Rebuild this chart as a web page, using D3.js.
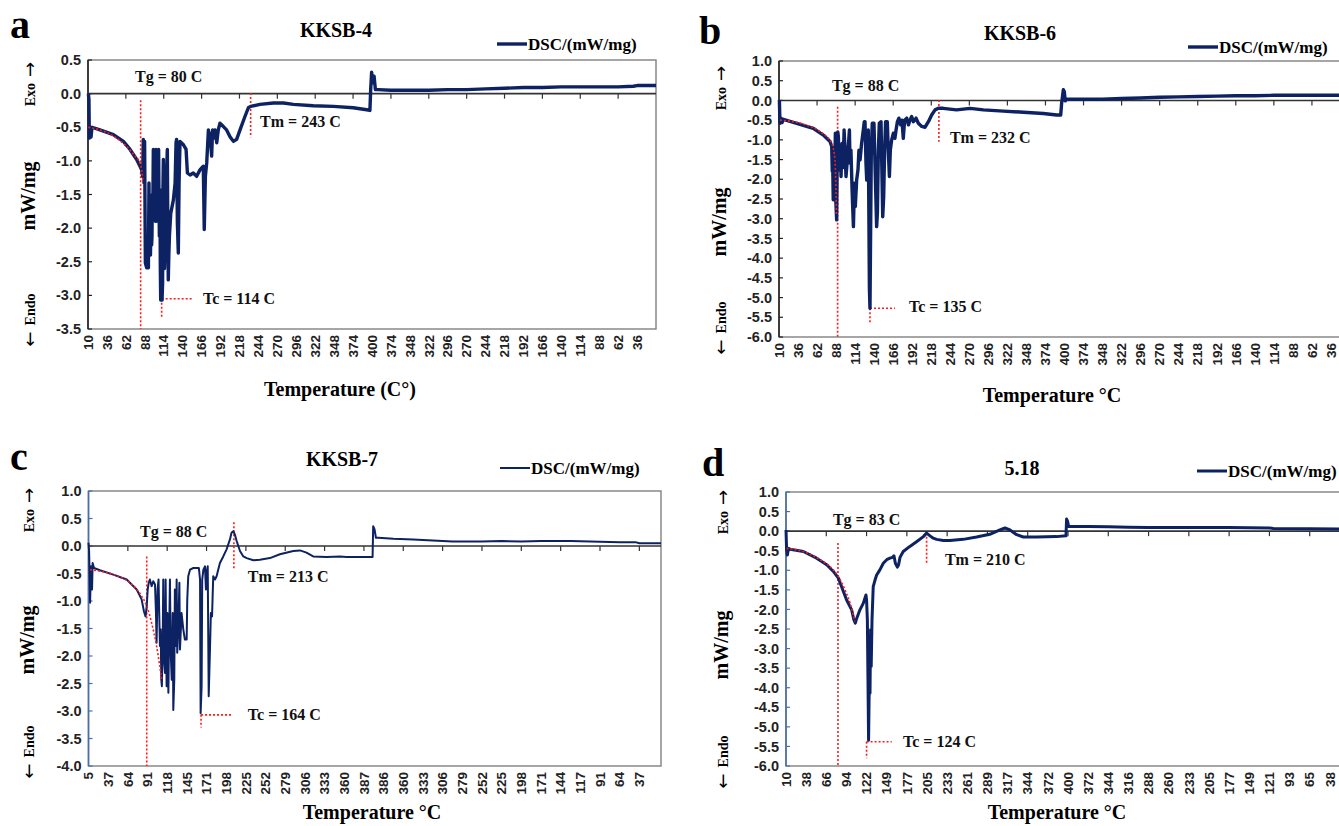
<!DOCTYPE html>
<html>
<head>
<meta charset="utf-8">
<script src="https://d3js.org/d3.v7.min.js"></script>
<style>
  body { margin: 0; background: #fff; }
  svg { display: block; }
  .serif { font-family: "Liberation Serif", "Times New Roman", serif; font-weight: bold; }
  .sans { font-family: "Liberation Sans", Arial, sans-serif; font-weight: bold; }
  .arrow { font-family: "DejaVu Sans", sans-serif; font-weight: normal; }
</style>
</head>
<body>
<div id="chart-container"></div>
<script>
// x tick labels: temperature along the heating run, then the cooling run
const ticksA = [10, 36, 62, 88, 114, 140, 166, 192, 218, 244, 270, 296, 322, 348, 374, 400, 374, 348, 322, 296, 270, 244, 218, 192, 166, 140, 114, 88, 62, 36];
const ticksB = [10, 36, 62, 88, 114, 140, 166, 192, 218, 244, 270, 296, 322, 348, 374, 400, 374, 348, 322, 296, 270, 244, 218, 192, 166, 140, 114, 88, 62, 36];
const ticksC = [5, 37, 64, 91, 118, 145, 171, 198, 225, 252, 279, 306, 333, 360, 387, 386, 360, 333, 306, 279, 252, 225, 198, 171, 144, 117, 91, 64, 37];
const ticksD = [10, 38, 66, 94, 122, 149, 177, 205, 233, 261, 289, 317, 344, 372, 400, 372, 344, 316, 288, 260, 233, 205, 177, 149, 121, 93, 65, 38];

// y tick values (mW/mg)
const yTicksA = [0.5, 0, -0.5, -1, -1.5, -2, -2.5, -3, -3.5];
const yTicksB = [1, 0.5, 0, -0.5, -1, -1.5, -2, -2.5, -3, -3.5, -4, -4.5, -5, -5.5, -6];
const yTicksC = [1, 0.5, 0, -0.5, -1, -1.5, -2, -2.5, -3, -3.5, -4];
const yTicksD = [1, 0.5, 0, -0.5, -1, -1.5, -2, -2.5, -3, -3.5, -4, -4.5, -5, -5.5, -6];

// DSC traces: [position in x-label steps, mW/mg]
const dscA = [[0.02,0],[0.05,-0.09],[0.07,-0.66],[0.11,-0.54],[0.16,-0.645],[0.21,-0.50],[0.63,-0.54],[1.34,-0.61],[1.87,-0.71],[2.22,-0.83],[2.57,-0.98],[2.83,-1.13],[2.89,-1.23],[2.92,-0.68],[2.96,-1.33],[2.99,-0.71],[3.03,-2.52],[3.10,-2.59],[3.19,-2.59],[3.22,-1.33],[3.25,-2.30],[3.27,-1.92],[3.30,-2.40],[3.33,-1.63],[3.36,-2.25],[3.38,-2.12],[3.40,-1.50],[3.42,-1.88],[3.45,-0.83],[3.47,-1.60],[3.49,-1.83],[3.52,-1.20],[3.54,-1.43],[3.57,-1.90],[3.59,-0.83],[3.61,-1.50],[3.63,-1.73],[3.66,-1.00],[3.68,-1.23],[3.71,-1.90],[3.73,-0.83],[3.75,-1.60],[3.77,-2.12],[3.80,-1.43],[3.82,-2.60],[3.84,-3.07],[3.91,-3.07],[3.94,-2.82],[3.96,-1.40],[3.98,-0.98],[4.01,-1.83],[4.04,-2.60],[4.07,-2.32],[4.10,-1.90],[4.12,-1.33],[4.16,-1.10],[4.19,-0.83],[4.22,-2.20],[4.24,-2.77],[4.27,-2.40],[4.30,-2.12],[4.37,-1.78],[4.51,-1.58],[4.60,-1.33],[4.65,-0.73],[4.68,-0.68],[4.72,-1.92],[4.77,-2.37],[4.81,-1.33],[4.86,-0.71],[5.04,-0.76],[5.18,-0.83],[5.25,-1.18],[5.39,-1.21],[5.56,-1.18],[5.74,-1.23],[5.92,-1.13],[6.09,-1.08],[6.14,-2.02],[6.20,-1.23],[6.27,-1.03],[6.36,-0.54],[6.40,-0.70],[6.44,-0.59],[6.53,-0.93],[6.58,-0.54],[6.64,-0.66],[6.71,-0.54],[6.80,-0.73],[6.88,-0.54],[6.97,-0.44],[7.15,-0.49],[7.32,-0.54],[7.50,-0.64],[7.68,-0.71],[7.85,-0.68],[8.03,-0.54],[8.29,-0.34],[8.47,-0.21],[8.59,-0.19],[9.08,-0.16],[9.79,-0.14],[10.32,-0.14],[10.85,-0.16],[11.90,-0.18],[12.96,-0.19],[14.01,-0.21],[14.72,-0.24],[14.89,-0.25],[14.93,0.06],[14.98,0.32],[15.04,0.16],[15.11,0.26],[15.18,0.06],[15.33,0.06],[16,0.05],[17,0.05],[18,0.05],[19,0.06],[20,0.06],[21,0.07],[22,0.08],[23,0.09],[24,0.09],[25,0.10],[26,0.10],[27,0.10],[28,0.10],[28.8,0.11],[29,0.12],[30,0.12]];
const dscB = [[0.02,0.01],[0.05,-0.58],[0.11,-0.45],[0.16,-0.56],[0.23,-0.48],[0.93,-0.58],[1.80,-0.71],[2.33,-0.88],[2.68,-1.04],[2.77,-1.17],[2.80,-1.80],[2.82,-1.51],[2.85,-2.52],[2.89,-1.26],[2.92,-2.36],[2.96,-0.83],[2.99,-2.61],[3.03,-3.03],[3.06,-1.26],[3.09,-0.80],[3.12,-0.92],[3.15,-1.60],[3.17,-1.76],[3.20,-1.17],[3.23,-1.50],[3.26,-1.93],[3.31,-1.09],[3.35,-1.70],[3.38,-1.51],[3.42,-0.75],[3.47,-1.26],[3.50,-1.70],[3.52,-1.93],[3.59,-1.51],[3.66,-1.04],[3.70,-0.75],[3.73,-1.59],[3.78,-1.26],[3.84,-2.27],[3.88,-2.80],[3.91,-3.20],[3.94,-2.60],[3.96,-2.10],[4.01,-2.69],[4.08,-2.02],[4.15,-1.76],[4.20,-1.26],[4.26,-1.51],[4.34,-1.09],[4.43,-0.75],[4.48,-0.54],[4.52,-0.54],[4.57,-1.60],[4.61,-2.02],[4.64,-1.26],[4.69,-0.75],[4.75,-4.77],[4.78,-5.27],[4.82,-2.95],[4.85,-1.26],[4.90,-0.58],[4.99,-0.58],[5.06,-1.93],[5.13,-3.20],[5.17,-2.86],[5.22,-1.26],[5.27,-0.58],[5.36,-0.54],[5.45,-2.95],[5.50,-2.44],[5.55,-1.26],[5.60,-0.54],[5.69,-0.54],[5.74,-1.26],[5.80,-1.93],[5.85,-1.26],[5.92,-1.00],[6.01,-0.83],[6.09,-0.96],[6.15,-0.75],[6.22,-0.54],[6.30,-0.45],[6.39,-0.62],[6.46,-0.50],[6.53,-0.96],[6.60,-0.50],[6.71,-0.45],[6.80,-0.62],[6.88,-0.50],[6.97,-0.41],[7.06,-0.54],[7.20,-0.45],[7.32,-0.58],[7.50,-0.66],[7.67,-0.68],[7.85,-0.54],[8.02,-0.37],[8.20,-0.24],[8.37,-0.20],[8.63,-0.20],[9.33,-0.24],[10.04,-0.20],[10.74,-0.24],[11.79,-0.27],[12.84,-0.30],[13.89,-0.33],[14.59,-0.37],[14.80,-0.37],[14.85,-0.07],[14.94,0.27],[14.99,0.22],[15.04,-0.01],[15.11,0.03],[16,0.03],[17,0.03],[18,0.05],[19,0.06],[20,0.08],[21,0.09],[22,0.10],[23,0.11],[24,0.12],[25,0.12],[26,0.13],[27,0.13],[28,0.13],[29,0.13],[30,0.13]];
const dscC = [[0,0.06],[0.03,-0.09],[0.06,-0.6],[0.08,-1.03],[0.13,-0.37],[0.18,-0.79],[0.21,-0.31],[0.28,-0.40],[0.58,-0.44],[1.26,-0.52],[1.94,-0.61],[2.45,-0.79],[2.70,-0.97],[2.82,-1.19],[2.90,-1.28],[2.96,-1.09],[3.01,-0.79],[3.06,-0.67],[3.12,-0.61],[3.21,-0.73],[3.29,-0.64],[3.38,-0.70],[3.43,-1.22],[3.46,-1.76],[3.51,-0.79],[3.56,-0.61],[3.63,-1.82],[3.67,-1.52],[3.70,-2.43],[3.73,-2.55],[3.77,-1.82],[3.80,-0.61],[3.84,-2.07],[3.89,-2.31],[3.92,-0.61],[3.97,-2.55],[4.01,-1.22],[4.06,-2.67],[4.09,-1.82],[4.14,-0.61],[4.18,-1.94],[4.23,-2.43],[4.28,-1.22],[4.31,-2.98],[4.36,-2.43],[4.39,-0.79],[4.45,-1.82],[4.48,-0.61],[4.51,-1.94],[4.56,-1.52],[4.62,-0.67],[4.65,-1.88],[4.73,-1.22],[4.82,-1.52],[4.90,-1.70],[4.99,-1.70],[5.02,-0.97],[5.07,-0.55],[5.16,-0.43],[5.33,-0.40],[5.50,-0.40],[5.61,-0.40],[5.67,-0.61],[5.70,-3.04],[5.75,-2.55],[5.78,-0.61],[5.84,-0.43],[5.92,-0.37],[5.97,-0.79],[6.00,-0.49],[6.06,-0.37],[6.11,-2.73],[6.17,-1.94],[6.22,-1.22],[6.28,-1.28],[6.34,-0.55],[6.43,-0.61],[6.51,-0.55],[6.68,-0.31],[6.85,-0.19],[7.02,-0.06],[7.19,0.12],[7.27,0.24],[7.36,0.27],[7.44,0.21],[7.53,0.09],[7.70,-0.09],[7.87,-0.19],[8.04,-0.22],[8.38,-0.26],[8.71,-0.25],[9.22,-0.22],[9.73,-0.15],[10.41,-0.09],[10.75,-0.08],[11.08,-0.12],[11.42,-0.19],[12.10,-0.20],[12.78,-0.19],[13.12,-0.20],[13.63,-0.20],[14.13,-0.20],[14.44,-0.20],[14.47,0.36],[14.54,0.30],[14.61,0.15],[14.73,0.15],[15.5,0.13],[16.5,0.12],[17.5,0.10],[18.5,0.08],[20,0.08],[21,0.09],[22,0.08],[23,0.09],[24.5,0.09],[25.5,0.08],[27,0.07],[27.8,0.07],[28,0.05],[29.1,0.05]];
const dscD = [[0,0.03],[0.03,-0.48],[0.07,-0.61],[0.12,-0.44],[0.20,-0.46],[0.86,-0.52],[1.52,-0.69],[2.02,-0.86],[2.35,-1.03],[2.60,-1.20],[2.76,-1.42],[3.01,-1.76],[3.26,-2.01],[3.37,-2.27],[3.44,-2.35],[3.51,-2.23],[3.67,-2.01],[3.84,-1.84],[3.97,-1.63],[4.00,-1.76],[4.04,-2.27],[4.07,-3.80],[4.10,-5.34],[4.14,-3.63],[4.17,-4.14],[4.20,-2.52],[4.23,-3.46],[4.27,-2.27],[4.33,-1.42],[4.42,-1.25],[4.50,-1.12],[4.66,-0.99],[4.83,-0.82],[5.00,-0.73],[5.16,-0.69],[5.29,-0.67],[5.36,-0.63],[5.43,-0.82],[5.53,-0.92],[5.59,-0.86],[5.66,-0.67],[5.82,-0.52],[6.15,-0.39],[6.48,-0.27],[6.82,-0.14],[6.98,-0.05],[7.15,-0.12],[7.31,-0.18],[7.48,-0.21],[7.81,-0.24],[8.14,-0.24],[8.80,-0.21],[9.46,-0.15],[10.12,-0.08],[10.62,0.03],[10.87,0.08],[11.12,0.03],[11.45,-0.09],[11.78,-0.15],[12.44,-0.15],[13.43,-0.14],[13.90,-0.12],[13.93,0.31],[13.98,0.25],[14.03,0.12],[14.09,0.12],[15,0.12],[16,0.11],[17,0.10],[18,0.09],[20,0.09],[22,0.09],[24,0.08],[24.2,0.07],[26,0.06],[28,0.05]];

// red dotted baseline fits before Tg
const fitA = [[0.02,-0.50],[1.0,-0.58],[1.9,-0.75],[2.4,-0.90],[2.78,-1.06],[2.9,-1.28]];
const fitB = [[0.05,-0.50],[1.28,-0.60],[2.15,-0.79],[2.77,-1.09],[2.94,-1.51],[3.02,-2.9]];
const fitC = [[0.08,-0.43],[1.26,-0.52],[2.11,-0.67],[2.70,-0.91],[2.96,-1.09],[3.21,-1.40],[3.46,-1.82],[3.72,-2.43]];
const fitD = [[0.03,-0.44],[0.86,-0.52],[1.69,-0.73],[2.35,-0.99],[2.60,-1.16],[2.93,-1.50],[3.18,-1.84],[3.42,-2.31]];

// annotations: labels and their markers in data units
const notesA = { tg: "Tg = 80 C", tm: "Tm = 243 C", tc: "Tc = 114 C",
  tgText: [2.48, 0.25], tgLine: [2.78, -0.1, -3.5],
  tmText: [9.09, -0.42], tmLine: [8.59, 0.01, -0.65],
  tcText: [6.07, -3.05], tcLine: [3.89, -3.05, -3.32, 5.55] };
const notesB = { tg: "Tg = 88 C", tm: "Tm = 232 C", tc: "Tc = 135 C",
  tgText: [2.78, 0.39], tgLine: [3.08, -0.16, -6.0],
  tmText: [8.98, -0.93], tmLine: [8.40, 0.01, -1.05],
  tcText: [6.83, -5.22], tcLine: [4.78, -5.27, -5.65, 6.09] };
const notesC = { tg: "Tg = 88 C", tm: "Tm = 213 C", tc: "Tc = 164 C",
  tgText: [2.62, 0.27], tgLine: [2.96, -0.19, -4.0],
  tmText: [8.10, -0.56], tmLine: [7.39, 0.43, -0.43],
  tcText: [8.10, -3.07], tcLine: [5.72, -3.07, -3.30, 7.29] };
const notesD = { tg: "Tg = 83 C", tm: "Tm = 210 C", tc: "Tc = 124 C",
  tgText: [2.33, 0.29], tgLine: [2.58, -0.30, -6.0],
  tmText: [7.89, -0.71], tmLine: [6.98, -0.04, -0.81],
  tcText: [5.81, -5.38], tcLine: [4.00, -5.38, -5.80, 5.25] };

const W = 1339, H = 826;
const navy = "#0d2263";

const svg = d3.select("#chart-container").append("svg")
  .attr("width", W).attr("height", H);

const panels = [
  { letter: "a", title: "KKSB-4", xTitle: "Temperature (C\u00b0)", ticks: ticksA, yTicks: yTicksA, dsc: dscA, fit: fitA, notes: notesA,
    box: [88, 60, 656, 329], xMax: 30, yDom: [-3.5, 0.5], axisCol: "#222", lw: 3.4,
    letterPos: [10, 38], titlePos: [336, 37], legendPos: [497, 44], xTitlePos: [340, 396],
    yTitlePos: [35, 196], exoPos: [35, 84], endoPos: [35, 320] },
  { letter: "b", title: "KKSB-6", xTitle: "Temperature  \u00b0C", ticks: ticksB, yTicks: yTicksB, dsc: dscB, fit: fitB, notes: notesB,
    box: [779, 61, 1350, 337], xMax: 30, yDom: [-6, 1], axisCol: "#222", lw: 3.4,
    letterPos: [699, 44], titlePos: [1020, 40], legendPos: [1188, 47], xTitlePos: [1052, 402],
    yTitlePos: [726, 222], exoPos: [726, 88], endoPos: [726, 328] },
  { letter: "c", title: "KKSB-7", xTitle: "Temperature \u00b0C", ticks: ticksC, yTicks: yTicksC, dsc: dscC, fit: fitC, notes: notesC,
    box: [88.5, 491, 661, 766], xMax: 29.1, yDom: [-4, 1], axisCol: "#4a6fb0", lw: 2,
    letterPos: [10, 470], titlePos: [342, 466], legendPos: [500, 468], xTitlePos: [372, 819],
    yTitlePos: [34, 640], exoPos: [34, 510], endoPos: [34, 752] },
  { letter: "d", title: "5.18", xTitle: "Temperature \u00b0C", ticks: ticksD, yTicks: yTicksD, dsc: dscD, fit: fitD, notes: notesD,
    box: [786, 492, 1350, 766], xMax: 28, yDom: [-6, 1], axisCol: "#4a6fb0", lw: 3,
    letterPos: [702, 476], titlePos: [1022, 475], legendPos: [1197, 471], xTitlePos: [1057, 819],
    yTitlePos: [728, 645], exoPos: [728, 512], endoPos: [728, 762] }
];

panels.forEach(p => {
  const [x0, y0, x1, y1] = p.box;
  const x = d3.scaleLinear().domain([0, p.xMax]).range([x0, x1]);
  const y = d3.scaleLinear().domain(p.yDom).range([y1, y0]);
  const g = svg.append("g");

  // frame
  g.append("rect").attr("x", x0).attr("y", y0).attr("width", x1 - x0).attr("height", y1 - y0)
    .attr("fill", "none").attr("stroke", "#808080").attr("stroke-width", 1.4);
  g.append("line").attr("x1", x0).attr("x2", x0).attr("y1", y0).attr("y2", y1)
    .attr("stroke", p.axisCol).attr("stroke-width", 1.6);

  // y ticks
  g.selectAll(".ytick").data(p.yTicks).enter().append("line")
    .attr("x1", x0).attr("x2", x0 + 4).attr("y1", d => y(d)).attr("y2", d => y(d))
    .attr("stroke", p.axisCol).attr("stroke-width", 1.2);
  g.selectAll(".ylab").data(p.yTicks).enter().append("text")
    .attr("class", "sans").attr("font-size", 14.5)
    .attr("x", x0 - 7).attr("y", d => y(d)).attr("dy", "0.35em")
    .attr("text-anchor", "end").attr("fill", "#222")
    .text(d => d.toFixed(1));

  // zero line with its tick marks every second label
  g.append("line").attr("x1", x0).attr("x2", x1).attr("y1", y(0)).attr("y2", y(0))
    .attr("stroke", "#333").attr("stroke-width", 1.6);
  const marks = p.ticks.map((t, i) => i).filter(i => i % 2 === 0 && i > 0);
  g.selectAll(".xmark").data(marks).enter().append("line")
    .attr("x1", d => x(d)).attr("x2", d => x(d)).attr("y1", y(0)).attr("y2", y(0) + 5)
    .attr("stroke", "#333").attr("stroke-width", 1.2);

  // x tick labels, rotated
  g.selectAll(".xlab").data(p.ticks).enter().append("text")
    .attr("class", "sans").attr("font-size", 13.5).attr("fill", "#222")
    .attr("text-anchor", "end").attr("dy", "0.35em")
    .attr("transform", (d, i) => `translate(${x(i)},${y1 + 6}) rotate(-90)`)
    .text(d => d);

  // red dotted annotation lines
  const n = p.notes;
  const red = sel => sel.attr("stroke", "#ff1a1a").attr("stroke-width", 1.6).attr("stroke-dasharray", "2,2").attr("fill", "none");
  [n.tgLine, n.tmLine, n.tcLine].forEach(l => {
    red(g.append("line").attr("x1", x(l[0])).attr("x2", x(l[0])).attr("y1", y(l[1])).attr("y2", y(l[2])));
  });
  red(g.append("line").attr("x1", x(n.tcLine[0])).attr("x2", x(n.tcLine[3]))
    .attr("y1", y(n.tcLine[1])).attr("y2", y(n.tcLine[1])));

  // DSC trace
  const line = d3.line().x(d => x(d[0])).y(d => y(d[1]));
  g.append("path").datum(p.dsc).attr("d", line)
    .attr("fill", "none").attr("stroke", navy).attr("stroke-width", p.lw)
    .attr("stroke-linejoin", "round");
  red(g.append("path").datum(p.fit).attr("d", d3.line().curve(d3.curveMonotoneX).x(d => x(d[0])).y(d => y(d[1]))));

  // annotation texts
  [[n.tgText, n.tg], [n.tmText, n.tm], [n.tcText, n.tc]].forEach(([pos, txt]) => {
    g.append("text").attr("class", "serif").attr("font-size", 16).attr("fill", "#111")
      .attr("x", x(pos[0])).attr("y", y(pos[1])).attr("dy", "0.35em").text(txt);
  });

  // panel letter, title, legend
  g.append("text").attr("class", "serif").attr("font-size", 40)
    .attr("x", p.letterPos[0]).attr("y", p.letterPos[1]).text(p.letter);
  g.append("text").attr("class", "serif").attr("font-size", 20).attr("text-anchor", "middle")
    .attr("x", p.titlePos[0]).attr("y", p.titlePos[1]).text(p.title);
  g.append("line").attr("x1", p.legendPos[0]).attr("x2", p.legendPos[0] + 30)
    .attr("y1", p.legendPos[1]).attr("y2", p.legendPos[1])
    .attr("stroke", navy).attr("stroke-width", p.lw);
  g.append("text").attr("class", "serif").attr("font-size", 17)
    .attr("x", p.legendPos[0] + 31).attr("y", p.legendPos[1]).attr("dy", "0.33em").text("DSC/(mW/mg)");

  // axis titles
  g.append("text").attr("class", "serif").attr("font-size", 20).attr("text-anchor", "middle")
    .attr("x", p.xTitlePos[0]).attr("y", p.xTitlePos[1]).text(p.xTitle);
  g.append("text").attr("class", "serif").attr("font-size", 20).attr("text-anchor", "middle")
    .attr("transform", `translate(${p.yTitlePos[0]},${p.yTitlePos[1]}) rotate(-90)`).text("mW/mg");

  // Exo / Endo with arrows
  const exo = g.append("text").attr("class", "serif").attr("font-size", 14).attr("text-anchor", "middle")
    .attr("transform", `translate(${p.exoPos[0]},${p.exoPos[1]}) rotate(-90)`);
  exo.append("tspan").text("Exo");
  exo.append("tspan").attr("class", "arrow").attr("font-size", 18).attr("dx", 6).attr("dy", 1).text("\u2192");
  const endo = g.append("text").attr("class", "serif").attr("font-size", 14).attr("text-anchor", "middle")
    .attr("transform", `translate(${p.endoPos[0]},${p.endoPos[1]}) rotate(-90)`);
  endo.append("tspan").attr("class", "arrow").attr("font-size", 18).attr("dy", 1).text("\u2190");
  endo.append("tspan").attr("dx", 6).attr("dy", -1).text("Endo");
});
</script>
</body>
</html>
